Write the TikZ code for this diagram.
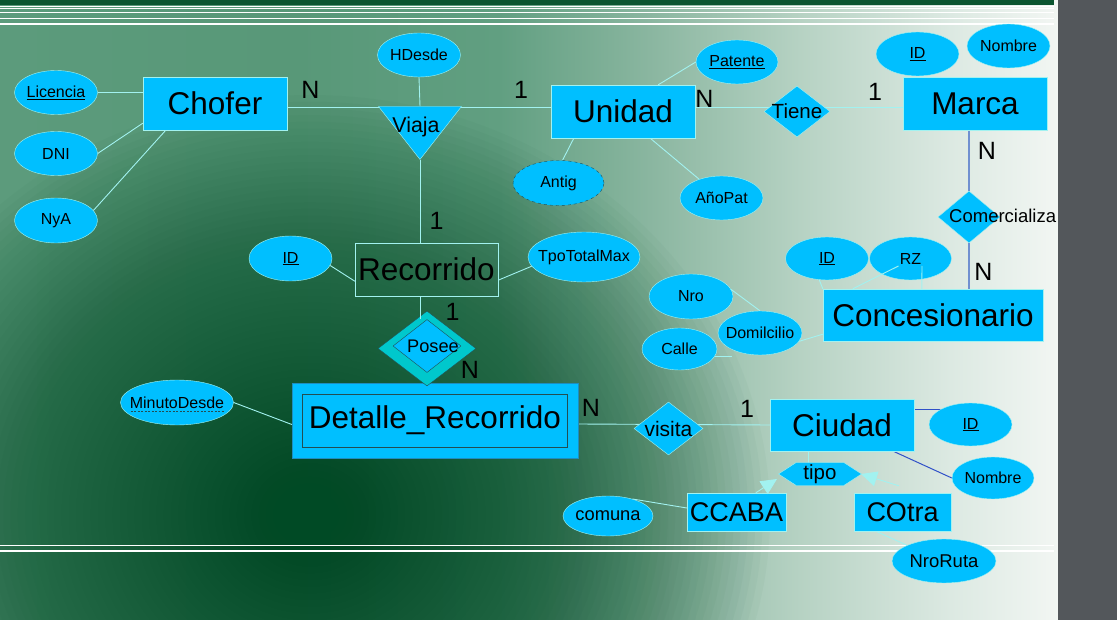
\documentclass[tikz,border=0pt]{standalone}
\usepackage{fontspec}
\setmainfont{Liberation Sans}
\usepackage{tikz}
\usetikzlibrary{arrows.meta,calc,shapes.geometric,shapes.symbols}
\definecolor{erCyan}{HTML}{00BFFF}
\definecolor{erEdge}{HTML}{A2F2F0}
\definecolor{erTeal}{HTML}{00C8CC}
\definecolor{erDark}{HTML}{234E52}
\definecolor{erFrame}{HTML}{1E8DBF}
\definecolor{erSteel}{HTML}{7090D0}
\definecolor{erBlue}{HTML}{3050C8}
\definecolor{bgBar}{HTML}{0B5530}
\definecolor{bgDeep}{HTML}{004A25}
\definecolor{bgSide}{HTML}{53575B}
\definecolor{bgA}{HTML}{5C9B7C}
\definecolor{bgB}{HTML}{589878}
\definecolor{bgC}{HTML}{619F81}
\definecolor{bgD}{HTML}{8AB6A0}
\definecolor{bgE}{HTML}{B6D2C3}
\definecolor{bgF}{HTML}{DCE9E2}
\definecolor{bgG}{HTML}{F2F6F3}
\pgfdeclarehorizontalshading{bgfade}{100bp}{color(0bp)=(bgA); color(25bp)=(bgA); color(39bp)=(bgB);
  color(48.6bp)=(bgC); color(55.7bp)=(bgD); color(62.8bp)=(bgE); color(69.9bp)=(bgF); color(75bp)=(bgG); color(100bp)=(bgG)}
\pgfdeclarelayer{background}
\pgfdeclarelayer{edges}
\pgfsetlayers{background,edges,main}
\tikzset{
  entity box/.style={draw=erEdge,fill=erCyan,inner sep=0pt,minimum width=144pt,minimum height=53pt,
    font=\fontsize{31.5}{34}\selectfont},
  attr/.style={ellipse,draw=erEdge,fill=erCyan,inner sep=0pt,minimum width=83pt,minimum height=44pt,
    font=\fontsize{16}{18}\selectfont,
    execute at begin node={\hbox to 0pt\bgroup\hss},execute at end node={\hss\egroup}},
  rel/.style={draw=erEdge,fill=erCyan,inner sep=0pt},
  rel diamond/.style={rel,diamond},
  rel text/.style={inner sep=0pt,font=\fontsize{#1}{#1}\selectfont},
  rel text/.default=20.5,
  card/.style={inner sep=0pt,font=\fontsize{25}{26}\selectfont},
  er line/.style={draw=erEdge,line width=0.9pt},
  steel line/.style={draw=erSteel,line width=1.3pt},
  blue line/.style={draw=erBlue,line width=1pt},
  isa arrow/.style={er line,-{Triangle[length=16pt,width=15pt]}}
}
\begin{document}
\begin{tikzpicture}[x=1pt,y=-1pt]
\useasboundingbox (0,0) rectangle (1117,620);
\begin{pgfonlayer}{background}
  \shade[shading=bgfade] (0,0) rectangle (1058,620);
  \begin{scope}
    \clip (0,0) rectangle (1058,620);
    \foreach \k in {0,...,59}
      \fill[bgDeep,opacity=0.027] (310,515) ellipse ({460-7.3*\k} and {420-6.7*\k});
  \end{scope}
  \fill[bgBar] (0,0) rectangle (1054,5.5);
  \foreach \y/\w in {6.3/0.9,8/0.8,12/0.5,19/1,24/1.3,545/1,551/1.3}
    \draw[white,line width=\w pt] (0,\y) -- (1054,\y);
  \fill[bgSide] (1058,0) rectangle (1117,620);
\end{pgfonlayer}

% entities
\node[entity box] (chofer) at (215,103.5) {Chofer};
\node[entity box] (unidad) at (623,111.5) {Unidad};
\node[entity box] (marca) at (975,104) {Marca};
\node[entity box,fill=none,minimum width=143pt] (recorrido) at (426.5,269.5) {Recorrido};
\node[entity box,minimum width=220pt,minimum height=52pt] (conces) at (933,315) {Concesionario};
\node[entity box,draw=erFrame,minimum width=286pt,minimum height=75pt] (detalle) at (435,420.5) {Detalle\_Recorrido};
\node[draw=erDark,inner sep=0pt,minimum width=265pt,minimum height=53pt] (detalleIn) at (detalle) {};
\node[entity box,minimum height=52pt] (ciudad) at (842,425) {Ciudad};
\node[entity box,minimum width=99pt,minimum height=38pt,font=\fontsize{27}{30}\selectfont] (ccaba) at (736.5,512) {CCABA};
\node[entity box,minimum width=97pt,minimum height=38pt,font=\fontsize{27}{30}\selectfont] (cotra) at (902.5,512) {COtra};

% relationships
\node[rel,isosceles triangle,isosceles triangle stretches,shape border rotate=270,
  minimum width=83pt,minimum height=53pt,anchor=apex] (viaja) at (420,160) {};
\node[rel text=21.4] (viajaTxt) at (416,127) {Viaja};
\node[rel diamond,minimum width=66pt,minimum height=51pt,label={[rel text]center:Tiene}] (tiene) at (797,111.5) {};
\node[rel diamond,minimum width=62pt,minimum height=52pt] (comerc) at (969,217) {};
\node[rel text=18.5,anchor=west] (comercTxt) at (949,216) {Comercializa};
\node[rel diamond,fill=erTeal,draw=erDark,minimum width=98pt,minimum height=75pt] (posee) at (427,348.5) {};
\node[rel diamond,draw=erDark,minimum width=68pt,minimum height=53pt,
  label={[rel text=18.2,xshift=6pt]center:Posee}] (poseeIn) at (427,346) {};
\node[rel diamond,minimum width=69pt,minimum height=53pt,label={[rel text=21]center:visita}] (visita) at (668.5,428.5) {};
\node[rel,signal,signal to=east and west,signal pointer angle=66,minimum width=83pt,minimum height=23pt,
  label={[rel text]center:tipo}] (tipo) at (820,474) {};

% attributes
\node[attr] (licencia) at (56,92.5) {\underline{Licencia}};
\node[attr] (dni) at (56,153.5) {DNI};
\node[attr,minimum height=45pt] (nya) at (56,220.5) {NyA};
\node[attr] (hdesde) at (419,55) {HDesde};
\node[attr,minimum width=82pt] (patente) at (737,62) {\underline{Patente}};
\node[attr] (marcaId) at (917.5,54) {\underline{ID}};
\node[attr] (marcaNom) at (1008.5,46) {Nombre};
\node[attr,draw=erDark,dashed,minimum width=91pt,minimum height=45pt] (antig) at (558.5,183) {Antig};
\node[attr] (anopat) at (721.5,198) {AñoPat};
\node[attr,minimum height=45pt] (recId) at (290.5,258.5) {\underline{ID}};
\node[attr,minimum width=112pt,minimum height=50pt] (tpo) at (584,257) {TpoTotalMax};
\node[attr,minimum height=43pt] (concId) at (827,258.5) {\underline{ID}};
\node[attr,minimum width=82pt,minimum height=43pt] (rz) at (910.5,258.5) {RZ};
\node[attr,minimum width=84pt,minimum height=45pt] (nro) at (691,296.5) {Nro};
\node[attr,minimum width=75pt,minimum height=42pt] (calle) at (679.5,349) {Calle};
\node[attr,minimum width=84pt] (domic) at (760,333) {Domilcilio};
\node[attr,minimum width=113pt,minimum height=45pt] (minuto) at (177,402.5) {MinutoDesde};
\node[attr,minimum height=43pt] (ciudadId) at (970.5,424.5) {\underline{ID}};
\node[attr,minimum width=82pt,minimum height=42pt] (ciudadNom) at (993,478) {Nombre};
\node[attr,minimum width=90pt,minimum height=40pt,font=\fontsize{18.3}{20}\selectfont] (comuna) at (608,516) {comuna};
\node[attr,minimum width=104pt,minimum height=44pt,font=\fontsize{18.5}{20}\selectfont] (nroruta) at (944,561) {NroRuta};
% partial key underline
\draw[erDark,line width=0.9pt,dash pattern=on 2pt off 1.5pt] ($(minuto.center)+(-46.5,8.5)$) -- ++(93,0);

% cardinalities
\node[card] (cardChofer) at (310.5,90) {N};
\node[card] (cardUnidad) at (521,90) {1};
\node[card] (cardTieneU) at (704.5,98.5) {N};
\node[card] (cardTieneM) at (875,91.5) {1};
\node[card] (cardMarca) at (987,151) {N};
\node[card] (cardConces) at (983.5,272) {N};
\node[card] (cardRec) at (436.5,221) {1};
\node[card] (cardPoseeR) at (452.5,311.5) {1};
\node[card] (cardPoseeD) at (470,370) {N};
\node[card] (cardDetalle) at (591,408) {N};
\node[card] (cardCiudad) at (747,409) {1};

\begin{pgfonlayer}{edges}
\draw[er line] (licencia.east) -- (licencia.east -| chofer.west);
\draw[er line] (dni.east) -- ($(chofer.south west)+(0,-7)$);
\draw[er line] (nya.15) -- ($(chofer.south west)+(23,0)$);
\draw[er line] ($(chofer.east)+(0,3.5)$) -- ($(unidad.west)+(0,-4.5)$);
\draw[er line] (hdesde.south) -- (viaja.lower side);
\draw[er line] (viaja.apex) -- (viaja.apex |- recorrido.north);
\draw[er line] (recId.-10) -- ($(recorrido.south west)+(0,-15)$);
\draw[er line] (tpo.190) -- ($(recorrido.south east)+(0,-16)$);
\draw[er line] (patente.west) -- ($(unidad.north east)+(-37,0)$);
\draw[er line] (antig.80) -- ($(unidad.south west)+(23,0)$);
\draw[er line] (anopat.140) -- ($(unidad.south east)+(-45,0)$);
\draw[er line] ($(unidad.east)+(0,-4.5)$) -- ($(marca.west)+(0,3)$);
\draw[steel line] (comerc.north |- marca.south) -- (comerc.south |- conces.north);
\draw[er line] (concId.250) -- (conces.north west);
\draw[er line] (nro.10) -- (domic.north);
\draw[er line] (domic.-12) -- ($(conces.south west)+(0,-7)$);
\draw[er line] (calle.-12) -- ++(17,0);
\draw[er line] (minuto.east) -- ($(detalle.west)+(0,4)$);
\draw[er line] ($(detalle.east)+(0,3.5)$) -- (ciudad.west);
\draw[blue line] ($(ciudad.north east)+(0,11)$) -- ++(31,0);
\draw[blue line] ($(ciudad.south east)+(-21,0)$) -- (ciudadNom.west);
\draw[er line] ($(tipo.center)+(-12,-11.5)$) -- ($(ciudad.south)+(-34,0)$);
\draw[er line] (comuna.35) -- ($(ccaba.west)+(0,-4)$);
\draw[er line] ($(cotra.south west)+(22,0)$) -- (nroruta.157);
\end{pgfonlayer}

\draw[er line] (viaja.apex |- recorrido.south) -- (viaja.apex |- poseeIn.north);
\draw[er line] ($(rz.center)+(-12,7.5)$) -- ($(conces.north west)+(30,0)$);
\draw[er line] ($(rz.center)+(11.5,7.5)$) -- ($(conces.north west)+(99,0)$);
\draw[isa arrow] ($(ccaba.north west)+(69,0)$) -- ($(tipo.center)+(-43,5)$);
\draw[isa arrow] ($(cotra.north west)+(45,-7)$) -- ($(tipo.center)+(41,0)$);
\end{tikzpicture}
\end{document}
